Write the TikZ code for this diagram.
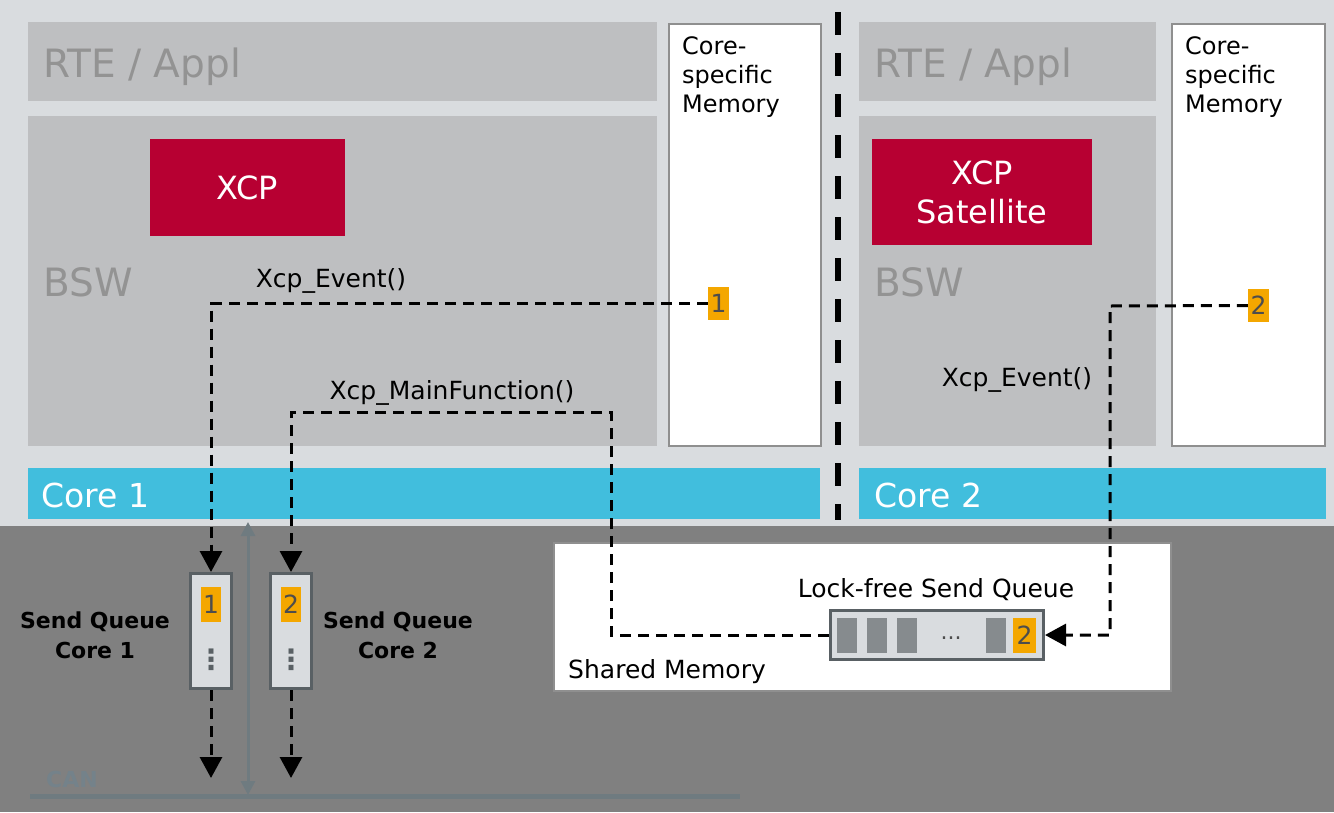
\documentclass[tikz,border=0pt]{standalone}
\usepackage{fontspec}
\setmainfont{DejaVu Sans}
\usepackage{xcolor}
\usetikzlibrary{arrows.meta}

\definecolor{lightbg}{HTML}{D9DCDF}
\definecolor{layerfill}{HTML}{BEBFC1}
\definecolor{layertext}{HTML}{939393}
\definecolor{xcpred}{HTML}{B70032}
\definecolor{corecyan}{HTML}{41BEDD}
\definecolor{darkbg}{HTML}{808080}
\definecolor{badgeorange}{HTML}{F4A700}
\definecolor{badgetext}{HTML}{4D4D4D}
\definecolor{queueborder}{HTML}{596064}
\definecolor{slotgray}{HTML}{868B8E}
\definecolor{buscolor}{HTML}{6F7B80}
\definecolor{canlabel}{HTML}{74828A}
\definecolor{memborder}{HTML}{8F8F8F}

\begin{document}
\begin{tikzpicture}[x=1pt, y=-1pt,
    layer/.style={rectangle, fill=layerfill, anchor=north west, inner sep=0pt},
    layertxt/.style={anchor=base west, inner sep=0pt, text=layertext, font=\fontsize{39}{44}\selectfont},
    memory/.style={rectangle, draw=memborder, line width=2pt, fill=white, anchor=north west, inner sep=0pt},
    memtxt/.style={anchor=north west, inner sep=0pt, align=left, font=\fontsize{24}{29}\selectfont},
    corebar/.style={rectangle, fill=corecyan, anchor=north west, inner sep=0pt},
    coretxt/.style={anchor=base west, inner sep=0pt, text=white, font=\fontsize{33}{38}\selectfont},
    xcpbox/.style={rectangle, fill=xcpred, text=white, align=center, inner sep=0pt, font=\fontsize{32}{39}\selectfont},
    badge/.style={rectangle, fill=badgeorange, text=badgetext, inner sep=0pt, minimum width=21, minimum height=33, font=\fontsize{25}{30}\selectfont},
    queue/.style={rectangle, draw=queueborder, line width=3pt, fill=lightbg, inner sep=0pt},
    slot/.style={rectangle, fill=slotgray, inner sep=0pt, minimum width=20, minimum height=35},
    functxt/.style={anchor=base, inner sep=0pt, font=\fontsize{25}{29}\selectfont},
    sqtxt/.style={inner sep=0pt, align=center, font=\bfseries\fontsize{22}{30}\selectfont},
    conn/.style={line width=3pt, dash pattern=on 11pt off 7pt},
    arrow/.style={conn, -{Triangle[width=22pt,length=21pt]}},
    buslink/.style={buscolor, line width=3pt, {Triangle[width=14pt,length=14pt]}-{Triangle[width=14pt,length=14pt]}}
]
    \useasboundingbox (0,0) rectangle (1334,812);
    \fill[lightbg] (0,0) rectangle (1334,526);
    \fill[darkbg] (0,526) rectangle (1334,812);
    \draw[line width=6pt, dash pattern=on 23pt off 18pt] (838,12) -- (838,520);

    \node[layer, minimum width=629, minimum height=79] (rte1) at (28,22) {};
    \node[layer, minimum width=629, minimum height=330] (bsw1) at (28,116) {};
    \node[memory, minimum width=152, minimum height=422] (mem1) at (668,23) {};
    \node[corebar, minimum width=792, minimum height=51] (core1) at (28,468) {};
    \node[layer, minimum width=297, minimum height=79] (rte2) at (859,22) {};
    \node[layer, minimum width=297, minimum height=330] (bsw2) at (859,116) {};
    \node[memory, minimum width=153, minimum height=422] (mem2) at (1171,23) {};
    \node[corebar, minimum width=467, minimum height=51] (core2) at (859,468) {};

    \node[layertxt] (rtetxt1) at (43,77) {RTE / Appl};
    \node[layertxt] (bswtxt1) at (43,296) {BSW};
    \node[layertxt] (rtetxt2) at (874,77) {RTE / Appl};
    \node[layertxt] (bswtxt2) at (874,296) {BSW};
    \node[memtxt] (memtxt1) at (682,36) {Core-\\specific\\Memory};
    \node[memtxt] (memtxt2) at (1185,36) {Core-\\specific\\Memory};
    \node[coretxt] (coretxt1) at (41,507) {Core 1};
    \node[coretxt] (coretxt2) at (874,507) {Core 2};

    \node[xcpbox, minimum width=195, minimum height=97] (xcp) at (247.5,187.5) {XCP};
    \node[xcpbox, minimum width=220, minimum height=106] (xcpsat) at (982,192) {XCP\\Satellite};

    \node[badge] (b1) at (718.5,303.5) {1};
    \node[badge] (b2) at (1258.5,305.5) {2};

    \node[functxt] (evt1) at (331,287) {Xcp\_Event()};
    \node[functxt] (mainfn) at (452,399) {Xcp\_MainFunction()};
    \node[functxt] (evt2) at (1017,386) {Xcp\_Event()};

    \node[rectangle, draw=memborder, line width=2pt, fill=white, anchor=north west, minimum width=617, minimum height=148, inner sep=0pt] (shmem) at (553,542) {};
    \node[anchor=base west, inner sep=0pt, font=\fontsize{25}{29}\selectfont] (shtxt) at (568,678) {Shared Memory};
    \node[functxt] (lfqtxt) at (936,597) {Lock-free Send Queue};
    \node[queue, minimum width=213, minimum height=49] (lfq) at (937,635) {};
    \foreach \x [count=\i] in {847,877,907,996}
        \node[slot] (slot\i) at (\x,635.5) {};
    \node[text=badgetext, inner sep=0pt, font=\fontsize{22}{24}\selectfont] (ldots) at (951,638) {...};
    \node[badge, minimum width=23, minimum height=35] (lq2) at (1024.5,635.5) {2};

    \node[queue, minimum width=41, minimum height=115] (sq1) at (211,631) {};
    \node[queue, minimum width=41, minimum height=115] (sq2) at (291,631) {};
    \node[badge, minimum width=20, minimum height=35] (sqb1) at (211,604.5) {1};
    \node[badge, minimum width=20, minimum height=35] (sqb2) at (291,604.5) {2};
    \node[text=queueborder, inner sep=0pt, font=\bfseries\fontsize{28}{30}\selectfont] (vd1) at (211,660) {⋮};
    \node[text=queueborder, inner sep=0pt, font=\bfseries\fontsize{28}{30}\selectfont] (vd2) at (291,660) {⋮};
    \node[sqtxt] (sqtxt1) at (95,635) {Send Queue\\Core 1};
    \node[sqtxt] (sqtxt2) at (398,635) {Send Queue\\Core 2};

    \coordinate (mfturn) at (611,412);
    \coordinate (ev2turn) at (1110,306);
    \coordinate (out1) at (211,778);
    \coordinate (out2) at (291,778);
    \coordinate (bustop) at (248,522);
    \coordinate (busbot) at (248,795);
    \coordinate (canl) at (30,796);
    \coordinate (canr) at (740,796);

    \draw[buscolor, line width=5pt] (canl) -- (canr);
    \draw[buslink] (bustop) -- (busbot);
    \node[anchor=base west, inner sep=0pt, text=canlabel, font=\bfseries\fontsize{22}{24}\selectfont] (cantxt) at (46,787) {CAN};

    \draw[arrow] (b1.west) -| (sq1.north);
    \draw[arrow] (lfq.west) -| (mfturn) -| (sq2.north);
    \draw[arrow] (b2.west) -- (ev2turn) |- (lfq.east);
    \draw[arrow] (sq1.south) -- (out1);
    \draw[arrow] (sq2.south) -- (out2);
\end{tikzpicture}
\end{document}
